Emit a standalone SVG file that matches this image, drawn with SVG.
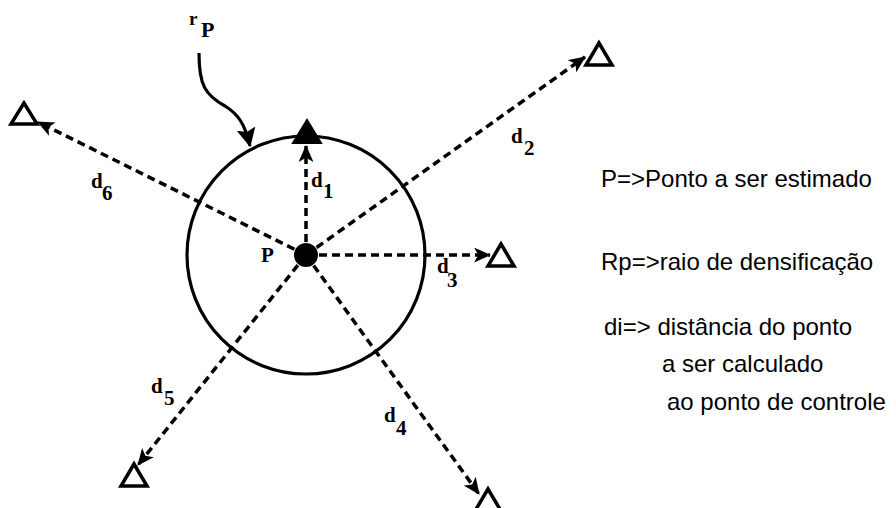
<svg xmlns="http://www.w3.org/2000/svg" width="896" height="508" viewBox="0 0 896 508">
<style>
.dash{fill:none;stroke:#000;stroke-width:3.5;stroke-dasharray:8 5;}
.tri{fill:#fff;stroke:#000;stroke-width:3.5;stroke-linejoin:miter;}
.lbl{font-family:"Liberation Serif",serif;font-weight:bold;fill:#000;}
.leg{font-family:"Liberation Sans",Arial,sans-serif;font-size:24px;fill:#000;}
</style>
<defs>
<marker id="ah" viewBox="0 0 16 14" refX="15" refY="7" markerWidth="17" markerHeight="15" markerUnits="userSpaceOnUse" orient="auto">
<path d="M0,0 L16,7 L0,14 L4,7 z" fill="#000"/>
</marker>
<marker id="ahc" viewBox="0 0 16 16" refX="15" refY="8" markerWidth="19" markerHeight="19" markerUnits="userSpaceOnUse" orient="auto">
<path d="M0,0 L16,8 L0,16 L3,8 z" fill="#000"/>
</marker>
</defs>
<rect width="896" height="508" fill="#fff"/>
<g id="circle">
<circle cx="306" cy="255" r="119" fill="none" stroke="#000" stroke-width="3.2"/>
</g>
<g id="connectors">
<path class="dash" d="M306,255 L306,146" marker-end="url(#ah)"/>
<path class="dash" d="M306,255 L585,57" marker-end="url(#ah)"/>
<path class="dash" d="M306,255 L490,255" marker-end="url(#ah)"/>
<path class="dash" d="M306,255 L479,494" marker-end="url(#ah)"/>
<path class="dash" d="M306,255 L138,465" marker-end="url(#ah)"/>
<path class="dash" d="M306,255 L38,122" marker-end="url(#ah)"/>
<path d="M199,53 C199,85 205,95 225,106 C238,114 245,124 250,146" fill="none" stroke="#000" stroke-width="3.2" marker-end="url(#ahc)"/>
</g>
<g id="P">
<circle cx="306" cy="255" r="12" fill="#000"/>
<text class="lbl" x="261" y="262" style="font-size:21px">P</text>
</g>
<g id="cp1"><polygon points="307,120 293,143 321,143" fill="#000" stroke="#000" stroke-width="2"/></g>
<g id="cp2"><polygon class="tri" points="599,43 586,65 612,65"/></g>
<g id="cp3"><polygon class="tri" points="501,244 488,266 514,266"/></g>
<g id="cp4"><polygon class="tri" points="488,489 475,511 501,511"/></g>
<g id="cp5"><polygon class="tri" points="134,464 121,486 147,486"/></g>
<g id="cp6"><polygon class="tri" points="24,103 11,124 37,124"/></g>
<g id="labels" style="font-size:21px">
<text class="lbl" x="189" y="25" style="font-size:19px">r</text>
<text class="lbl" x="201" y="37" style="font-size:22px">P</text>
<text class="lbl" x="311" y="187">d</text><text class="lbl" x="323" y="198">1</text>
<text class="lbl" x="511" y="143">d</text><text class="lbl" x="524" y="155">2</text>
<text class="lbl" x="437" y="273">d</text><text class="lbl" x="447" y="287">3</text>
<text class="lbl" x="384" y="422">d</text><text class="lbl" x="396" y="435">4</text>
<text class="lbl" x="151" y="393">d</text><text class="lbl" x="164" y="405">5</text>
<text class="lbl" x="91" y="188">d</text><text class="lbl" x="102" y="200">6</text>
</g>
<g id="legend">
<text class="leg" x="601" y="187">P=&gt;Ponto a ser estimado</text>
<text class="leg" x="601" y="270">Rp=&gt;raio de densificação</text>
<text class="leg" x="604" y="335">di=&gt; distância do ponto</text>
<text class="leg" x="662" y="372">a ser calculado</text>
<text class="leg" x="667" y="410">ao ponto de controle</text>
</g>
</svg>
